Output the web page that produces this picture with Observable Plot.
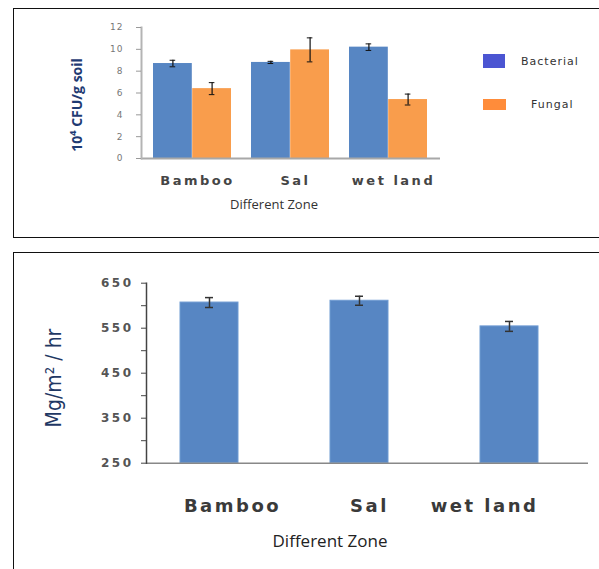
<!DOCTYPE html>
<html><head><meta charset="utf-8">
<script src="https://cdn.jsdelivr.net/npm/d3@7"></script>
<script src="https://cdn.jsdelivr.net/npm/@observablehq/plot@0.6"></script>
<style>
body{margin:0;background:#fff;width:599px;height:569px;overflow:hidden;position:relative;font-family:"DejaVu Sans",sans-serif;}
.panel{position:absolute;border:1.5px solid #111;box-sizing:border-box;}
#p1{left:13px;top:8px;width:700px;height:230px;}
#p2{left:13px;top:252px;width:700px;height:400px;}
.abs{position:absolute;white-space:nowrap;}
.rot{position:absolute;white-space:nowrap;transform:translate(-50%,-50%) rotate(-90deg);line-height:1;}
.ctr{position:absolute;white-space:nowrap;transform:translate(-50%,-50%);line-height:1;}
#c1 svg g[aria-label="y-axis tick label"] text{letter-spacing:1px;}
#c1 svg g[aria-label="x-axis tick label"] text{letter-spacing:2.5px;}
#c2 svg g[aria-label="y-axis tick label"] text{letter-spacing:2.5px;}
#c2 svg g[aria-label="x-axis tick label"] text{letter-spacing:2.5px;}
.sw{position:absolute;}
.lg{position:absolute;font-family:"DejaVu Sans";font-size:11px;color:#333;letter-spacing:1px;line-height:1;transform:translateY(-50%);}
</style></head><body>
<div class="panel" id="p1"></div>
<div class="panel" id="p2"></div>
<div id="c1" class="abs" style="left:0;top:0"></div>
<div id="c2" class="abs" style="left:0;top:252px"></div>

<div class="rot" style="left:77px;top:105px;font-family:'Open Sans';font-weight:bold;font-size:14px;color:#1F3B73;">10⁴ CFU/g soil</div>
<div class="ctr" style="left:274px;top:204px;font-family:'Open Sans';font-size:13px;color:#333;">Different Zone</div>
<div class="sw" style="left:483px;top:54px;width:22px;height:14px;background:#4B55D2;"></div>
<div class="lg" style="left:521px;top:61px;">Bacterial</div>
<div class="sw" style="left:483px;top:99px;width:23px;height:11px;background:#FF8C3A;"></div>
<div class="lg" style="left:531px;top:104px;">Fungal</div>

<div class="rot" style="left:54px;top:378px;font-family:'Liberation Sans Narrow','DejaVu Sans Condensed',sans-serif;font-size:21px;color:#1F3864;">Mg/m² / hr</div>
<div class="ctr" style="left:330px;top:540px;font-family:'Open Sans';font-size:17px;color:#222;">Different Zone</div>

<script>
// ---- data: top chart (10^4 CFU/g soil) ----
const zones = ["Bamboo", "Sal", "wet land"];
const series = ["Bacterial", "Fungal"];
const bacterial = [8.7, 8.8, 10.2];
const bacterialErr = [0.3, 0.1, 0.3];
const fungal = [6.4, 9.95, 5.4];
const fungalErr = [0.55, 1.1, 0.5];
const yTicks1 = [0, 2, 4, 6, 8, 10, 12];

// ---- data: bottom chart (Mg/m2/hr) ----
const resp = [607, 611, 554];
const respErr = [11, 10, 11];
const yDomain2 = [250, 650];
const yTicks2 = [250, 300, 350, 400, 450, 500, 550, 600, 650];
const yLabels2 = [250, 350, 450, 550, 650];

const blue = "#5786C3";
const orange = "#F99D4C";

const bRows = zones.map((z, i) => ({zone: z, value: bacterial[i], err: bacterialErr[i]}));
const fRows = zones.map((z, i) => ({zone: z, value: fungal[i], err: fungalErr[i]}));
const rRows = zones.map((z, i) => ({zone: z, value: resp[i], err: respErr[i]}));

const half = 39.2; // half of band width (two bars per band)
const p1 = Plot.plot({
  width: 599, height: 237,
  marginLeft: 141, marginRight: 159, marginTop: 27, marginBottom: 79,
  style: {background: "transparent", overflow: "visible"},
  x: {domain: zones, paddingInner: 0.2, paddingOuter: 0.125, axis: null},
  y: {domain: [0, 12], axis: null},
  marks: [
    Plot.barY(bRows, {x: "zone", y: "value", fill: blue, insetRight: half}),
    Plot.barY(fRows, {x: "zone", y: "value", fill: orange, insetLeft: half}),
    Plot.ruleX(bRows, {x: "zone", y1: d => d.value - d.err, y2: d => d.value + d.err, dx: -half / 2, stroke: "#111", strokeWidth: 1.2}),
    Plot.ruleX(fRows, {x: "zone", y1: d => d.value - d.err, y2: d => d.value + d.err, dx: half / 2, stroke: "#111", strokeWidth: 1.2}),
    Plot.tickY(bRows, {x: "zone", y: d => d.value + d.err, insetLeft: half / 2 - 3, insetRight: half * 1.5 - 3, stroke: "#111"}),
    Plot.tickY(bRows, {x: "zone", y: d => d.value - d.err, insetLeft: half / 2 - 3, insetRight: half * 1.5 - 3, stroke: "#111"}),
    Plot.tickY(fRows, {x: "zone", y: d => d.value + d.err, insetLeft: half * 1.5 - 3, insetRight: half / 2 - 3, stroke: "#111"}),
    Plot.tickY(fRows, {x: "zone", y: d => d.value - d.err, insetLeft: half * 1.5 - 3, insetRight: half / 2 - 3, stroke: "#111"}),
    Plot.ruleY([0], {stroke: "#a8a8a8", strokeWidth: 2}),
    Plot.frame({anchor: "left", stroke: "#b4b4b4", strokeWidth: 2}),
    Plot.axisY({ticks: yTicks1, tickSize: 5, tickPadding: 13, stroke: "#999", fill: "#777", fontSize: 9, fontFamily: "DejaVu Sans", label: null}),
    Plot.axisX({tickSize: 0, tickPadding: 17, dx: 5, fontSize: 13, fontWeight: "bold", fontFamily: "DejaVu Sans", fill: "#454545", label: null})
  ]
});
document.getElementById("c1").appendChild(p1);

const bw2 = 58;
const p2 = Plot.plot({
  width: 599, height: 317,
  marginLeft: 146, marginRight: 11, marginTop: 30.7, marginBottom: 106.3,
  style: {background: "transparent", overflow: "visible"},
  x: {domain: zones, paddingInner: 0.615, paddingOuter: 0.276, align: 0.4, axis: null},
  y: {domain: yDomain2, axis: null},
  marks: [
    Plot.barY(rRows, {x: "zone", y1: yDomain2[0], y2: "value", fill: blue, stroke: "#6f9bd2", strokeWidth: 1}),
    Plot.ruleX(rRows, {x: "zone", y1: d => d.value - d.err, y2: d => d.value + d.err, stroke: "#333", strokeWidth: 1.5}),
    Plot.tickY(rRows, {x: "zone", y: d => d.value + d.err, insetLeft: bw2 / 2 - 4, insetRight: bw2 / 2 - 4, stroke: "#333", strokeWidth: 1.5}),
    Plot.tickY(rRows, {x: "zone", y: d => d.value - d.err, insetLeft: bw2 / 2 - 4, insetRight: bw2 / 2 - 4, stroke: "#333", strokeWidth: 1.5}),
    Plot.ruleY([yDomain2[0]], {stroke: "#888", strokeWidth: 1.5}),
    Plot.frame({anchor: "left", stroke: "#444", strokeWidth: 1.5}),
    Plot.axisY({ticks: yTicks2, tickFormat: d => yLabels2.includes(d) ? String(d) : "", tickSize: 5, tickPadding: 8, stroke: "#444", fill: "#555", fontSize: 12, fontWeight: "bold", fontFamily: "DejaVu Sans", label: null}),
    Plot.axisX({ticks: [zones[0]], tickSize: 0, tickPadding: 36, dx: 23, fontSize: 18, fontWeight: "bold", fontFamily: "DejaVu Sans", fill: "#3a3a3a", label: null}),
    Plot.axisX({ticks: [zones[1]], tickSize: 0, tickPadding: 36, dx: 10, fontSize: 18, fontWeight: "bold", fontFamily: "DejaVu Sans", fill: "#3a3a3a", label: null}),
    Plot.axisX({ticks: [zones[2]], tickSize: 0, tickPadding: 36, dx: -25, fontSize: 18, fontWeight: "bold", fontFamily: "DejaVu Sans", fill: "#3a3a3a", label: null})
  ]
});
document.getElementById("c2").appendChild(p2);
</script>
</body></html>
